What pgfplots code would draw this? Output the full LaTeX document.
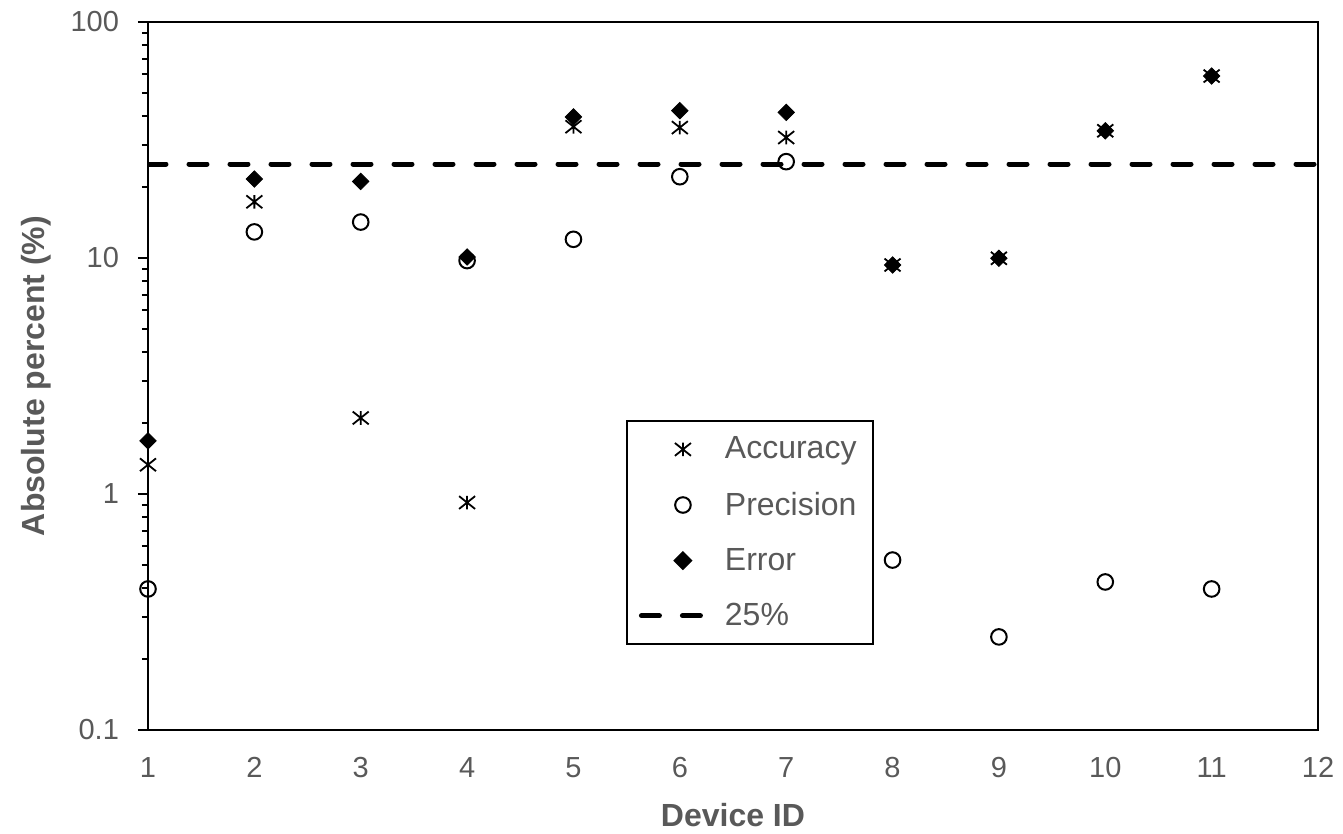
\documentclass[border=0pt]{standalone}
\usepackage{pgfplots}
\pgfplotsset{compat=1.18}
\usepackage{fontspec}
\setmainfont{Liberation Sans}
\definecolor{txt}{HTML}{595959}
\pgfdeclareplotmark{xstar}{%
  \pgfpathmoveto{\pgfqpoint{0pt}{0.85\pgfplotmarksize}}%
  \pgfpathlineto{\pgfqpoint{0pt}{-0.85\pgfplotmarksize}}%
  \pgfpathmoveto{\pgfqpoint{-\pgfplotmarksize}{-0.8\pgfplotmarksize}}%
  \pgfpathlineto{\pgfqpoint{\pgfplotmarksize}{0.8\pgfplotmarksize}}%
  \pgfpathmoveto{\pgfqpoint{-\pgfplotmarksize}{0.8\pgfplotmarksize}}%
  \pgfpathlineto{\pgfqpoint{\pgfplotmarksize}{-0.8\pgfplotmarksize}}%
  \pgfusepathqstroke}
\begin{document}
\begin{tikzpicture}
\begin{axis}[
  scale only axis, width=585pt, height=354pt,
  xmin=1, xmax=12, ymin=0.1, ymax=100, ymode=log,
  xtick={1,2,3,4,5,6,7,8,9,10,11,12},
  ytick={0.1,1,10,100}, yticklabels={0.1,1,10,100},
  minor ytick={0.2,0.3,0.4,0.5,0.6,0.7,0.8,0.9,2,3,4,5,6,7,8,9,20,30,40,50,60,70,80,90},
  x tick style={draw=none},
  y tick style={black, line width=1pt},
  major tick length=5pt, minor tick length=3pt,
  tick align=outside, ytick pos=left, xtick pos=bottom,
  /pgf/number format/assume math mode=true,
  ticklabel style={font=\fontsize{14.5}{17}\selectfont, text=txt},
  xticklabel style={yshift=-5pt},
  yticklabel style={xshift=-6pt},
  xlabel={\textbf{Device ID}}, ylabel={\textbf{Absolute percent (\%)}},
  label style={font=\fontsize{16}{19}\selectfont, text=txt},
  xlabel style={at={(axis description cs:0.5,-0.12)}, anchor=center},
  ylabel style={at={(axis description cs:-0.0957,0.5)}, anchor=center},
  axis line style={line width=1.2pt},
  legend style={at={(rel axis cs:0.4085,0.438)}, anchor=north west,
    draw=black, line width=1pt, font=\fontsize{16}{19}\selectfont, text=txt,
    row sep=11pt, inner xsep=6pt, inner ysep=6pt},
  legend cell align=left,
  legend image code/.code={\path[draw=none,fill=none] (0pt,0pt) -- (41pt,0pt); \path[#1,draw=none] plot[only marks] coordinates {(22pt,0pt)};},
]
\addplot[only marks, mark=xstar, mark size=4pt, line width=0.9pt, black] coordinates {
 (1,1.33)(2,17.3)(3,2.10)(4,0.92)(5,36)(6,35.7)(7,32.4)(8,9.34)(9,9.97)(10,34.6)(11,59)};
\addlegendentry{Accuracy}
\addplot[only marks, mark=o, mark size=3.9pt, line width=1pt, black] coordinates {
 (1,0.396)(2,12.9)(3,14.2)(4,9.75)(5,12.0)(6,22.1)(7,25.6)(8,0.525)(9,0.248)(10,0.424)(11,0.396)};
\addlegendentry{Precision}
\addplot[only marks, mark=square*, mark size=2.9pt, mark options={rotate=45}, black] coordinates {
 (1,1.68)(2,21.6)(3,21.1)(4,10.1)(5,39.6)(6,42.1)(7,41.4)(8,9.34)(9,9.97)(10,34.6)(11,59)};
\addlegendentry{Error}
\addplot[black, line width=2.5pt, dash pattern=on 9pt off 11.5pt, line cap=round,
  legend image code/.code={\path[draw=none,fill=none] (0pt,0pt) -- (41pt,0pt); \draw[black, line width=2.5pt, dash pattern=on 9pt off 11.5pt, line cap=round] (1.25pt,0pt) -- (32pt,0pt);}] coordinates {(1,25)(12,25)};
\addlegendentry{25\%}
\end{axis}
\path (current axis.south west) ++(-74pt,-50pt);
\path (current axis.north east) ++(12.5pt,11pt);
\end{tikzpicture}
\end{document}
